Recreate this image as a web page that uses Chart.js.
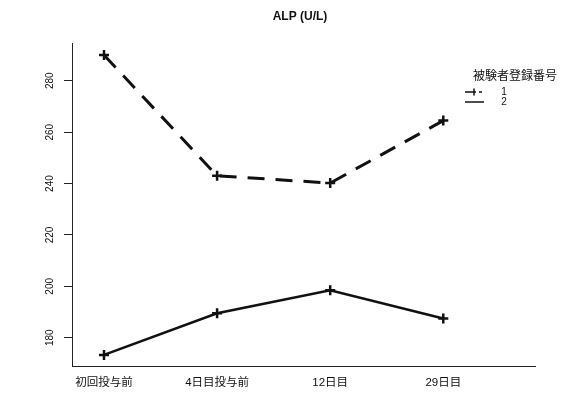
<!DOCTYPE html>
<html>
<head>
<meta charset="utf-8">
<script src="https://cdn.jsdelivr.net/npm/chart.js@4.4.1/dist/chart.umd.min.js"></script>
<style>
  html, body { margin: 0; padding: 0; background: #fff; }
  canvas { display: block; }
</style>
</head>
<body>
<canvas id="alp" width="577" height="400"></canvas>
<script>
'use strict';

const categories = ['初回投与前', '4日目投与前', '12日目', '29日目'];
const subject1 = [290, 243, 240.2, 264.5];
const subject2 = [173.3, 189.5, 198.5, 187.5];
const yTicks = [180, 200, 220, 240, 260, 280];
const seriesNames = ['1', '2'];
const legendTitle = '被験者登録番号';
const chartTitle = 'ALP (U/L)';

const ink = '#111';
const latin = '"Liberation Sans", Arial, "Noto Sans CJK JP", sans-serif';

const toPoints = (values) => values.map((v, i) => ({ x: i, y: v }));

// title, rotated y labels and the in-plot legend
const overlay = {
  id: 'overlay',
  afterDraw(chart) {
    const { ctx } = chart;
    const yScale = chart.scales.y;
    ctx.save();
    ctx.fillStyle = ink;
    ctx.textAlign = 'center';
    ctx.textBaseline = 'middle';

    ctx.font = `bold 12px ${latin}`;
    ctx.fillText(chartTitle, 300, 17);

    ctx.font = `10px ${latin}`;
    yScale.ticks.forEach((tick) => {
      const py = yScale.getPixelForValue(tick.value);
      ctx.save();
      ctx.translate(50, py);
      ctx.rotate(-Math.PI / 2);
      ctx.fillText(String(tick.value), 0, 0);
      ctx.restore();
    });

    ctx.font = `12px "Noto Sans CJK JP", sans-serif`;
    ctx.fillText(legendTitle, 515, 75);

    chart.data.datasets.forEach((ds, i) => {
      const ly = 92 + i * 10;
      ctx.save();
      ctx.strokeStyle = ink;
      ctx.lineWidth = 1.5;
      ctx.setLineDash(i === 0 ? [11, 3, 3, 3] : []);
      ctx.beginPath();
      ctx.moveTo(465, ly);
      ctx.lineTo(484, ly);
      ctx.stroke();
      if (i === 0) {
        ctx.setLineDash([]);
        ctx.beginPath();
        ctx.moveTo(474, ly - 3.5);
        ctx.lineTo(474, ly + 3.5);
        ctx.stroke();
      }
      ctx.restore();
      ctx.font = `10px ${latin}`;
      ctx.fillText(ds.label, 504, ly);
    });
    ctx.restore();
  },
};

new Chart(document.getElementById('alp'), {
  type: 'line',
  data: {
    datasets: [
      {
        label: seriesNames[0],
        data: toPoints(subject1),
        borderColor: ink,
        borderWidth: 3,
        borderDash: [17, 11],
        pointStyle: 'cross',
        pointRadius: 5,
        pointBorderWidth: 2.5,
        pointBorderColor: ink,
        tension: 0,
      },
      {
        label: seriesNames[1],
        data: toPoints(subject2),
        borderColor: ink,
        borderWidth: 2.5,
        pointStyle: 'cross',
        pointRadius: 5,
        pointBorderWidth: 2.5,
        pointBorderColor: ink,
        tension: 0,
      },
    ],
  },
  options: {
    responsive: false,
    animation: false,
    devicePixelRatio: 1,
    layout: { padding: { top: 43, right: 42, left: 0, bottom: 0 } },
    plugins: {
      legend: { display: false },
      title: { display: false },
      tooltip: { enabled: false },
    },
    scales: {
      x: {
        type: 'linear',
        min: -0.283,
        max: 3.811,
        afterBuildTicks: (scale) => {
          scale.ticks = categories.map((_, i) => ({ value: i }));
        },
        afterFit: (scale) => {
          scale.height = 34;
        },
        grid: { display: false, drawTicks: false },
        border: { display: true, color: '#222', width: 1 },
        ticks: {
          autoSkip: false,
          maxRotation: 0,
          padding: 10,
          color: ink,
          font: { family: latin, size: 11.5 },
          callback: (value) => categories[value] ?? '',
        },
      },
      y: {
        min: 169,
        max: 294.7,
        afterBuildTicks: (scale) => {
          scale.ticks = yTicks.map((v) => ({ value: v }));
        },
        afterFit: (scale) => {
          scale.width = 72;
        },
        grid: { drawOnChartArea: false, drawTicks: true, tickLength: 8, color: '#222' },
        border: { display: true, color: '#222', width: 1 },
        ticks: { display: false },
      },
    },
  },
  plugins: [overlay],
});
</script>
</body>
</html>
